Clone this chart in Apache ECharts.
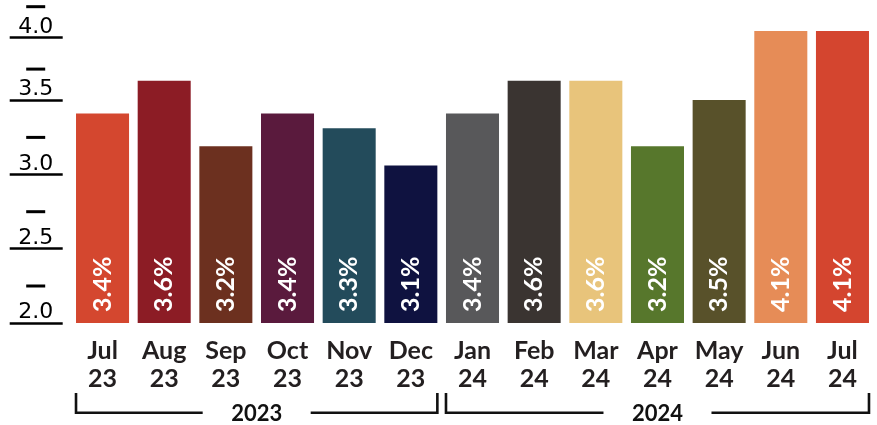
<!DOCTYPE html>
<html>
<head>
<meta charset="utf-8">
<script src="https://cdn.jsdelivr.net/npm/echarts@6/dist/echarts.min.js"></script>
<style>html,body{margin:0;padding:0;background:#fff}#c{width:877px;height:425px}</style>
</head>
<body>
<div id="c"></div>
<script>
var categories = ['Jul\n23','Aug\n23','Sep\n23','Oct\n23','Nov\n23','Dec\n23','Jan\n24','Feb\n24','Mar\n24','Apr\n24','May\n24','Jun\n24','Jul\n24'];
var values = [3.41, 3.63, 3.19, 3.41, 3.31, 3.06, 3.41, 3.63, 3.63, 3.19, 3.5, 4.1, 4.1];
var barLabels = ['3.4%','3.6%','3.2%','3.4%','3.3%','3.1%','3.4%','3.6%','3.6%','3.2%','3.5%','4.1%','4.1%'];
var colors = ['#D4472F','#8C1C25','#6C301F','#5A1A3D','#234B5B','#0F1240','#58585A','#3A3431','#E8C47B','#57772C','#58512A','#E68C57','#D4452F'];
var tickValues = [2.0, 2.5, 3.0, 3.5, 3.92];
var tickLabels = ['2.0', '2.5', '3.0', '3.5', '4.0'];
var groups = [{label:'2023', from:0, to:5}, {label:'2024', from:6, to:12}];

var chart = echarts.init(document.getElementById('c'));
var option = {
  animation: false,
  grid: {left: 71.7, right: 3.7, top: 31, bottom: 102, containLabel: false},
  xAxis: {
    type: 'category', data: categories,
    axisLine: {show: false}, axisTick: {show: false},
    axisLabel: {fontFamily: 'Lato', fontWeight: 'bold', fontSize: 25, color: '#231F20', lineHeight: 28, margin: 14, interval: 0}
  },
  yAxis: {
    type: 'value', min: 2, max: 3.965, offset: 9,
    splitLine: {show: false},
    axisLine: {show: false},
    axisTick: {show: true, length: 53, lineStyle: {color: '#000', width: 2.7}, customValues: tickValues},
    axisLabel: {
      customValues: tickValues, margin: 27, align: 'center', verticalAlign: 'bottom',
      formatter: function (v) {
        var i = tickValues.indexOf(v);
        var d = i >= 3 ? 'd2' : 'd';
        return '{' + d + '| }\n{t|' + tickLabels[i] + '}';
      },
      rich: {
        d: {width: 19, height: 3, lineHeight: 32, backgroundColor: '#000', fontSize: 1},
        d2: {width: 19, height: 3, lineHeight: 20, backgroundColor: '#000', fontSize: 1},
        t: {fontFamily: 'DejaVu Sans', fontSize: 22, color: '#000', lineHeight: 21}
      }
    }
  },
  series: [{
    type: 'bar', barCategoryGap: '14%',
    data: values.map(function (v, i) { return {value: v, itemStyle: {color: colors[i]}}; }),
    label: {
      show: true, position: 'insideBottom', rotate: 90, distance: 11,
      align: 'left', verticalAlign: 'middle',
      fontFamily: 'Lato', fontWeight: 'bold', fontSize: 25, color: '#fff',
      formatter: function (p) { return barLabels[p.dataIndex]; }
    }
  }]
};
chart.setOption(option);

var band = chart.convertToPixel({xAxisIndex: 0}, 1) - chart.convertToPixel({xAxisIndex: 0}, 0);
var halfBar = band * 0.86 / 2;
var yLine = 412.7, yTop = 393, gap = 54;
var gfx = [];
groups.forEach(function (g) {
  var x0 = chart.convertToPixel({xAxisIndex: 0}, g.from) - halfBar;
  var x1 = chart.convertToPixel({xAxisIndex: 0}, g.to) + halfBar;
  var cx = (x0 + x1) / 2;
  var ls = {stroke: '#111', lineWidth: 2.6, fill: null};
  gfx.push({type: 'polyline', shape: {points: [[x0, yTop], [x0, yLine], [cx - gap, yLine]]}, style: ls});
  gfx.push({type: 'polyline', shape: {points: [[cx + gap, yLine], [x1, yLine], [x1, yTop]]}, style: ls});
  gfx.push({type: 'text', x: cx, y: yLine + 1.5, style: {text: g.label, fontFamily: 'Lato', fontWeight: 'bold', fontSize: 22, fill: '#111', align: 'center', verticalAlign: 'middle'}});
});
chart.setOption({graphic: gfx});
</script>
</body>
</html>
